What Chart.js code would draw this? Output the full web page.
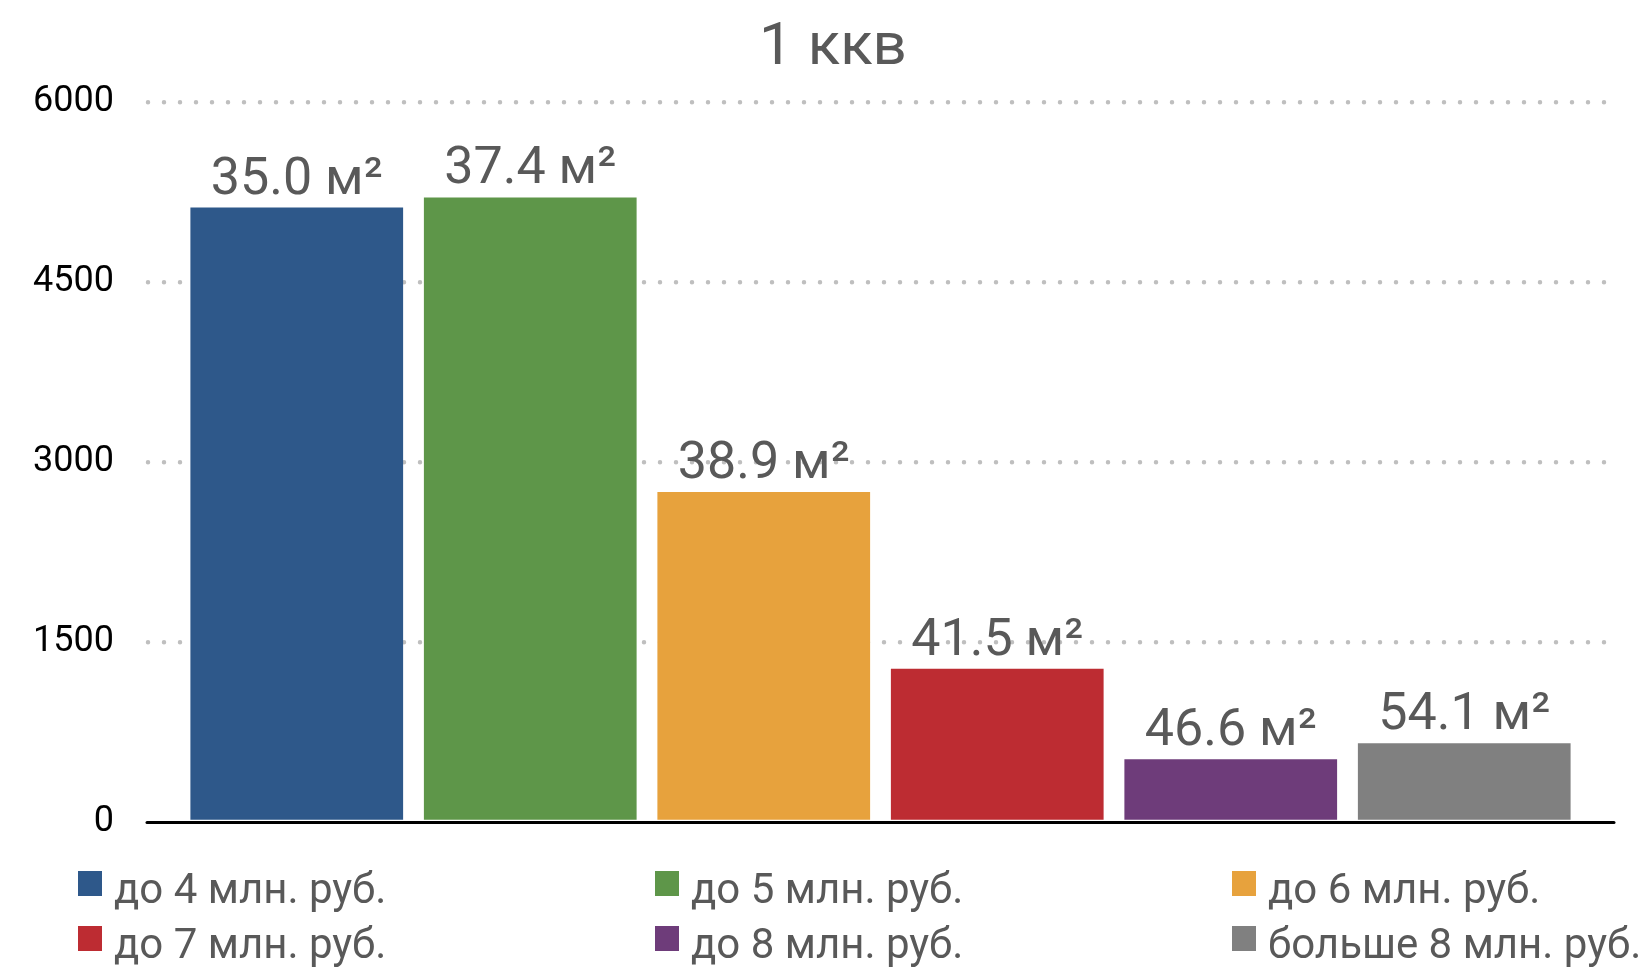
<!DOCTYPE html>
<html><head><meta charset="utf-8">
<script src="https://cdn.jsdelivr.net/npm/chart.js@4/dist/chart.umd.min.js"></script>
<style>
html,body{margin:0;padding:0;background:#fff;}
#wrap{position:relative;width:1650px;height:969px;overflow:hidden;}
#c{position:absolute;left:0;top:0;}
#legend{position:absolute;left:78px;top:861px;display:grid;grid-template-columns:repeat(3,577px);font-family:Roboto,sans-serif;font-size:42px;line-height:55px;color:#595959;}
.item{display:flex;align-items:flex-start;white-space:nowrap;}
.box{width:24px;height:25px;margin-top:10px;margin-right:12px;flex:none;}
</style></head><body>
<div id="wrap"><canvas id="c" width="1650" height="969"></canvas><div id="legend"></div></div>
<script>
const chartTitle = '1 ккв';
const categories = [''];
const seriesNames = ['до 4 млн. руб.', 'до 5 млн. руб.', 'до 6 млн. руб.', 'до 7 млн. руб.', 'до 8 млн. руб.', 'больше 8 млн. руб.'];
const seriesValues = [5120, 5205, 2750, 1278, 522, 656];
const avgAreas = [35.0, 37.4, 38.9, 41.5, 46.6, 54.1];
const areaUnit = 'м²';
const yTicks = [0, 1500, 3000, 4500, 6000];
const seriesColors = ['#2E588A', '#5E9649', '#E7A23D', '#BD2C32', '#6E3C7A', '#808080'];

const FONT = 'Roboto, sans-serif';

const roundCaps = {
  id: 'roundCaps',
  beforeDraw(chart) { chart.ctx.lineCap = 'round'; }
};

const barLabels = {
  id: 'barLabels',
  afterDatasetsDraw(chart) {
    const ctx = chart.ctx;
    ctx.save();
    ctx.font = '52px ' + FONT;
    ctx.fillStyle = '#595959';
    ctx.textAlign = 'center';
    ctx.textBaseline = 'alphabetic';
    chart.data.datasets.forEach((ds, i) => {
      const el = chart.getDatasetMeta(i).data[0];
      if (!el) return;
      ctx.fillText(avgAreas[i].toFixed(1) + ' ' + areaUnit, el.x, el.y - 14);
    });
    ctx.restore();
  }
};

const chart = new Chart(document.getElementById('c'), {
  type: 'bar',
  data: {
    labels: categories,
    datasets: seriesNames.map((name, i) => ({
      label: name,
      data: [seriesValues[i]],
      backgroundColor: seriesColors[i],
      borderWidth: 0,
      categoryPercentage: 0.9563,
      barPercentage: 0.911
    }))
  },
  options: {
    responsive: false,
    animation: false,
    devicePixelRatio: 1,
    layout: { padding: { left: 16, right: 0, top: 0, bottom: 147 } },
    plugins: {
      legend: { display: false },
      tooltip: { enabled: false },
      title: {
        display: true,
        text: chartTitle,
        color: '#595959',
        font: { family: FONT, size: 60, weight: 'normal', lineHeight: 1.2 },
        padding: { top: 13, bottom: 17 }
      }
    },
    scales: {
      x: {
        grid: { display: false, drawTicks: false },
        ticks: { display: false },
        border: { display: true, color: '#000000', width: 3 }
      },
      y: {
        min: 0,
        max: 6000,
        afterBuildTicks: s => { s.ticks = yTicks.map(v => ({ value: v })); },
        afterFit: s => { s.width = 132; },
        grid: {
          drawTicks: false,
          lineWidth: 4.5,
          color: c => (c.tick && c.tick.value === 0) ? 'rgba(0,0,0,0)' : '#BFBFBF'
        },
        border: { display: false, dash: [0, 16] },
        ticks: {
          color: '#000000',
          padding: 34,
          font: { family: FONT, size: 36 },
          callback: v => String(v)
        }
      },
      spacer: {
        type: 'linear',
        position: 'right',
        min: 0,
        max: 1,
        afterFit: s => { s.width = 37; },
        grid: { display: false, drawTicks: false },
        border: { display: false },
        ticks: { display: false }
      }
    }
  },
  plugins: [roundCaps, barLabels]
});

const legendEl = document.getElementById('legend');
chart.data.datasets.forEach(ds => {
  const item = document.createElement('div');
  item.className = 'item';
  const box = document.createElement('span');
  box.className = 'box';
  box.style.background = ds.backgroundColor;
  const txt = document.createElement('span');
  txt.textContent = ds.label;
  item.appendChild(box);
  item.appendChild(txt);
  legendEl.appendChild(item);
});
</script>
</body></html>
